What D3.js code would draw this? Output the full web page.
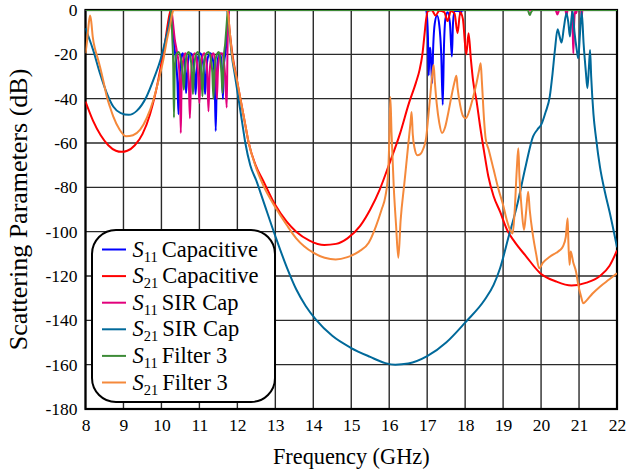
<!DOCTYPE html>
<html><head><meta charset="utf-8">
<script src="https://cdn.jsdelivr.net/npm/d3@7"></script>
<style>body{margin:0;background:#fff}</style>
</head><body>
<svg id="c" width="628" height="472"></svg>
<script>
const xTicks = [8,9,10,11,12,13,14,15,16,17,18,19,20,21,22];
const yTicks = [0,-20,-40,-60,-80,-100,-120,-140,-160,-180];

const s11Capacitive = [[8,0],[10.22,0],[10.27,-3],[10.31,-10],[10.35,-18],[10.39,-24],[10.42,-32],[10.45,-47],[10.48,-30],[10.52,-22],[10.56,-19.5],[10.6,-23],[10.63,-30],[10.65,-37.5],[10.68,-28],[10.72,-21],[10.77,-19.5],[10.83,-22],[10.87,-28],[10.9,-38],[10.93,-28],[10.97,-21],[11.02,-19.5],[11.08,-22],[11.12,-28],[11.15,-38],[11.18,-28],[11.23,-21],[11.29,-19.5],[11.35,-22],[11.4,-30],[11.43,-54.6],[11.46,-30],[11.5,-21],[11.55,-19.5],[11.59,-26],[11.62,-40],[11.65,-24],[11.69,-19],[11.73,-10],[11.76,-2],[11.8,0],[16.97,0],[17.0,-4],[17.02,-12],[17.04,-29.5],[17.06,-19],[17.08,-17],[17.1,-22],[17.13,-33],[17.16,-16],[17.2,-6],[17.26,-2.5],[17.32,-7],[17.37,-20],[17.41,-42.8],[17.44,-18],[17.48,-4],[17.54,-1],[17.6,-6],[17.65,-21],[17.68,-6],[17.72,-0.5],[17.85,-0.5],[17.88,-2],[17.91,-0.3],[18.0,0],[22,0]];

const s21Capacitive = [[8,-41.3],[8.2,-50],[8.4,-56.5],[8.6,-61],[8.8,-63.5],[8.95,-64],[9.1,-63.5],[9.3,-61],[9.5,-56],[9.7,-47],[9.85,-37],[10.0,-24],[10.1,-14],[10.17,-6],[10.22,-1.5],[10.27,0],[11.74,0],[11.8,-10],[11.87,-20],[11.97,-30],[12.08,-40],[12.19,-50],[12.3,-60],[12.48,-70],[12.68,-77],[13.0,-88],[13.3,-95.5],[13.55,-100],[13.9,-104],[14.29,-106],[14.6,-105.5],[14.9,-103],[15.23,-97.5],[15.5,-90],[15.75,-81],[16.0,-69.5],[16.28,-56],[16.52,-42],[16.7,-33],[16.8,-27],[16.87,-20.5],[16.93,-11],[16.97,-4.5],[17.02,-0.5],[17.12,0],[17.22,-2.5],[17.32,-0.3],[17.45,-1],[17.54,-5],[17.62,-0.5],[17.72,-1.5],[17.8,-10.5],[17.87,-1],[17.94,-4],[18.03,-20],[18.09,-10.5],[18.15,-22],[18.21,-32],[18.3,-41],[18.39,-52],[18.5,-64],[18.61,-75],[18.75,-84],[18.92,-91],[19.1,-99],[19.3,-104.5],[19.6,-111],[19.97,-118.6],[20.4,-122.5],[20.8,-124.3],[21.2,-123],[21.55,-120],[21.8,-115.5],[22,-108.5]];

const s11SirCap = [[8,0],[10.26,0],[10.3,-5],[10.35,-13],[10.41,-19],[10.46,-25],[10.49,-35],[10.51,-55.5],[10.53,-35],[10.57,-23],[10.63,-19.5],[10.68,-23],[10.72,-32],[10.75,-48.8],[10.78,-30],[10.82,-22],[10.88,-19.5],[10.94,-24],[10.97,-30],[11.0,-42],[11.03,-28],[11.08,-21],[11.13,-19.5],[11.18,-23],[11.21,-30],[11.24,-45.7],[11.27,-28],[11.32,-21],[11.37,-19.5],[11.42,-24],[11.44,-30],[11.46,-40],[11.49,-27],[11.54,-20],[11.6,-19.5],[11.65,-24],[11.68,-30],[11.72,-44],[11.74,-18],[11.76,-5],[11.79,0],[20.38,0],[20.43,-2],[20.48,0],[20.64,0],[20.67,-2.5],[20.7,0],[20.81,0],[20.83,-7],[20.85,-19.5],[20.87,-7],[20.9,0],[20.92,-1.5],[20.95,0],[21.05,0],[21.07,-3],[21.09,0],[22,0]];

const s21SirCap = [[8,-8.2],[8.1,-13],[8.2,-18],[8.38,-28.5],[8.55,-37],[8.73,-43.5],[8.93,-46.5],[9.14,-47.3],[9.35,-45.5],[9.61,-39],[9.8,-31],[10.0,-21],[10.1,-14],[10.18,-8],[10.24,-2.5],[10.3,0],[11.73,0],[11.79,-10],[11.85,-20],[11.94,-30],[12.03,-40],[12.12,-50],[12.21,-60],[12.34,-70],[12.5,-77],[12.68,-86],[13.0,-102],[13.3,-116],[13.55,-126],[13.8,-133.5],[14.07,-139.7],[14.5,-147],[15.0,-152.5],[15.5,-156.5],[15.9,-159.3],[16.16,-160],[16.5,-159.5],[17.0,-156.2],[17.5,-150],[18.0,-141],[18.52,-130.6],[18.75,-124],[18.92,-116.5],[19.15,-102],[19.36,-88.7],[19.6,-70],[19.79,-57],[19.9,-54],[20.01,-51.5],[20.12,-46],[20.23,-39],[20.3,-29],[20.365,-18],[20.435,-8.7],[20.49,-12],[20.54,-14.7],[20.6,-8],[20.67,-1.5],[20.72,-6],[20.76,-12],[20.8,-4],[20.83,-0.5],[20.88,-10],[20.94,-18],[20.98,-21.8],[21.02,-12],[21.07,-0.8],[21.12,-15],[21.18,-28],[21.22,-35.3],[21.26,-26],[21.29,-18],[21.32,-30],[21.38,-47],[21.45,-58],[21.55,-70.7],[21.68,-82],[21.81,-91.5],[22,-107]];

const s11Filter3 = [[8,0],[10.24,0],[10.27,-6],[10.29,-14],[10.31,-24],[10.33,-48.5],[10.35,-28],[10.39,-20],[10.45,-19],[10.51,-22],[10.55,-27],[10.59,-36],[10.62,-27],[10.67,-20],[10.72,-19],[10.77,-22],[10.8,-27],[10.83,-38],[10.86,-27],[10.91,-20],[10.96,-19],[11.01,-22],[11.05,-28],[11.08,-39],[11.11,-27],[11.17,-20],[11.24,-19],[11.3,-22],[11.34,-28],[11.37,-40],[11.4,-27],[11.46,-20],[11.51,-19],[11.55,-22],[11.58,-28],[11.61,-37.5],[11.64,-22],[11.68,-15],[11.72,-6],[11.75,0],[19.65,0],[19.7,-2.3],[19.73,-1.3],[19.78,0],[22,0]];

const s21Filter3 = [[8,-19.5],[8.04,-14],[8.08,-7],[8.12,-2.5],[8.15,-5],[8.19,-12],[8.25,-17.5],[8.3,-20.5],[8.38,-25.5],[8.47,-32],[8.56,-39],[8.65,-44],[8.73,-48],[8.9,-54],[9.07,-57],[9.25,-56.5],[9.44,-54],[9.62,-48.5],[9.79,-40.5],[9.92,-32],[10.05,-22.5],[10.15,-13],[10.22,-7.5],[10.28,-2],[10.32,0],[11.74,0],[11.8,-10],[11.86,-20],[11.97,-30],[12.08,-40],[12.19,-50],[12.3,-60],[12.47,-70],[12.68,-79],[13.0,-89],[13.3,-97],[13.55,-103],[14.0,-109.5],[14.3,-111.8],[14.59,-112.6],[14.9,-111.5],[15.2,-109],[15.46,-105],[15.65,-97.6],[15.8,-90],[15.9,-84],[15.97,-74],[16.0,-60],[16.03,-39.3],[16.06,-55],[16.12,-80],[16.18,-97],[16.24,-111.8],[16.3,-95],[16.4,-78],[16.5,-61],[16.56,-51],[16.59,-46],[16.62,-56],[16.67,-62.5],[16.74,-65.5],[16.82,-65],[16.9,-62.5],[16.97,-58],[17.03,-48],[17.09,-37],[17.14,-28],[17.17,-24.8],[17.2,-32],[17.25,-42],[17.32,-51],[17.39,-55.5],[17.47,-53],[17.56,-46],[17.65,-38],[17.72,-32.5],[17.77,-29.7],[17.8,-35],[17.87,-43],[17.95,-48],[18.02,-48.8],[18.1,-46],[18.2,-40],[18.3,-33],[18.37,-27],[18.41,-24],[18.44,-32],[18.5,-50],[18.54,-58],[18.62,-63],[18.75,-72],[18.88,-81],[19.0,-88],[19.1,-95],[19.19,-99.5],[19.25,-100.8],[19.3,-92],[19.36,-72],[19.4,-62.4],[19.43,-75],[19.49,-90],[19.55,-99.2],[19.6,-92],[19.66,-82],[19.7,-90],[19.78,-101],[19.87,-110],[19.95,-116.5],[20.05,-114],[20.23,-111.3],[20.4,-109.5],[20.5,-108.3],[20.58,-106.5],[20.65,-102.5],[20.7,-94],[20.72,-105],[20.75,-115],[20.78,-109],[20.85,-114],[20.92,-118],[20.98,-124],[21.05,-129],[21.11,-132.3],[21.2,-131],[21.35,-128],[21.55,-124.8],[21.8,-121.5],[22,-118.8]];

const seriesData = [s11Capacitive, s21Capacitive, s11SirCap, s21SirCap, s11Filter3, s21Filter3];
const seriesSub = ["11","21","11","21","11","21"];
const seriesName = ["Capacitive","Capacitive","SIR Cap","SIR Cap","Filter 3","Filter 3"];
const seriesColor = ["#0000ff","#ff0000","#e2007c","#00699a","#3d8b37","#f5893b"];

const xLabel = "Frequency (GHz)";
const yLabel = "Scattering Parameters (dB)";

const L = 85.5, R = 617, T = 10, B = 409;
const FONT = '"Liberation Serif", "Times New Roman", Tinos, serif';
const svg = d3.select("#c");
const x = d3.scaleLinear().domain([8,22]).range([L,R]);
const y = d3.scaleLinear().domain([-180,0]).range([B,T]);

// grid
const grid = svg.append("g");
grid.selectAll("line.v").data(xTicks).join("line")
  .attr("x1", d=>x(d)).attr("x2", d=>x(d)).attr("y1", T).attr("y2", B)
  .attr("stroke", "#2a2a2a").attr("stroke-width", 1.4);
grid.selectAll("line.h").data(yTicks).join("line")
  .attr("y1", d=>y(d)).attr("y2", d=>y(d)).attr("x1", L).attr("x2", R)
  .attr("stroke", "#2a2a2a").attr("stroke-width", 1.4);

// frame
svg.append("rect").attr("x", L).attr("y", T).attr("width", R-L).attr("height", B-T)
  .attr("fill", "none").attr("stroke", "#000").attr("stroke-width", 2.2);

// axes labels
const xAxis = d3.axisBottom(x).tickValues(xTicks).tickFormat(d=>String(d)).tickSize(0).tickPadding(10);
const gx = svg.append("g").attr("transform", `translate(0,${B})`).call(xAxis);
gx.attr("font-family", null).attr("font-size", null);
gx.select(".domain").remove();
gx.selectAll("text").style("font-family", FONT).style("font-size", "17.5px").attr("fill", "#000");

const yAxis = d3.axisLeft(y).tickValues(yTicks).tickFormat(d=>String(d)).tickSize(0).tickPadding(8);
const gy = svg.append("g").attr("transform", `translate(${L},0)`).call(yAxis);
gy.attr("font-family", null).attr("font-size", null);
gy.select(".domain").remove();
gy.selectAll("text").style("font-family", FONT).style("font-size", "17.5px").attr("fill", "#000");

svg.append("text").attr("x", (L+R)/2).attr("y", 464).attr("text-anchor", "middle")
  .style("font-family", FONT).style("font-size", "22.3px").text(xLabel);
svg.append("text").attr("transform", `translate(27,${(T+B)/2}) rotate(-90)`).attr("text-anchor", "middle")
  .style("font-family", FONT).style("font-size", "26px").text(yLabel);

// curves
svg.append("clipPath").attr("id", "clip").append("rect")
  .attr("x", L).attr("y", T).attr("width", R-L).attr("height", B-T);
const line = d3.line().x(d=>x(d[0])).y(d=>y(d[1])).curve(d3.curveMonotoneX);
const curves = svg.append("g").attr("clip-path", "url(#clip)");
seriesData.forEach((data, i) => {
  curves.append("path").datum(data).attr("d", line)
    .attr("fill", "none").attr("stroke", seriesColor[i]).attr("stroke-width", 2)
    .attr("stroke-linejoin", "round");
});

// legend
const lg = svg.append("g");
lg.append("rect").attr("x", 92).attr("y", 230).attr("width", 183).attr("height", 172)
  .attr("rx", 24).attr("ry", 24).attr("fill", "#fff").attr("stroke", "#000").attr("stroke-width", 2);
seriesData.forEach((data, i) => {
  const by = 256.5 + i*26.6;
  lg.append("line").attr("x1", 102).attr("x2", 126).attr("y1", by-7).attr("y2", by-7)
    .attr("stroke", seriesColor[i]).attr("stroke-width", 2);
  const t = lg.append("text").attr("x", 132.5).attr("y", by)
    .style("font-family", FONT).style("font-size", "22.5px").attr("fill", "#000");
  t.append("tspan").style("font-style", "italic").text("S");
  t.append("tspan").style("font-size", "14.5px").attr("dy", 5).text(seriesSub[i]);
  t.append("tspan").attr("dy", -5).attr("dx", 4).text(seriesName[i]);
});
</script>
</body></html>
